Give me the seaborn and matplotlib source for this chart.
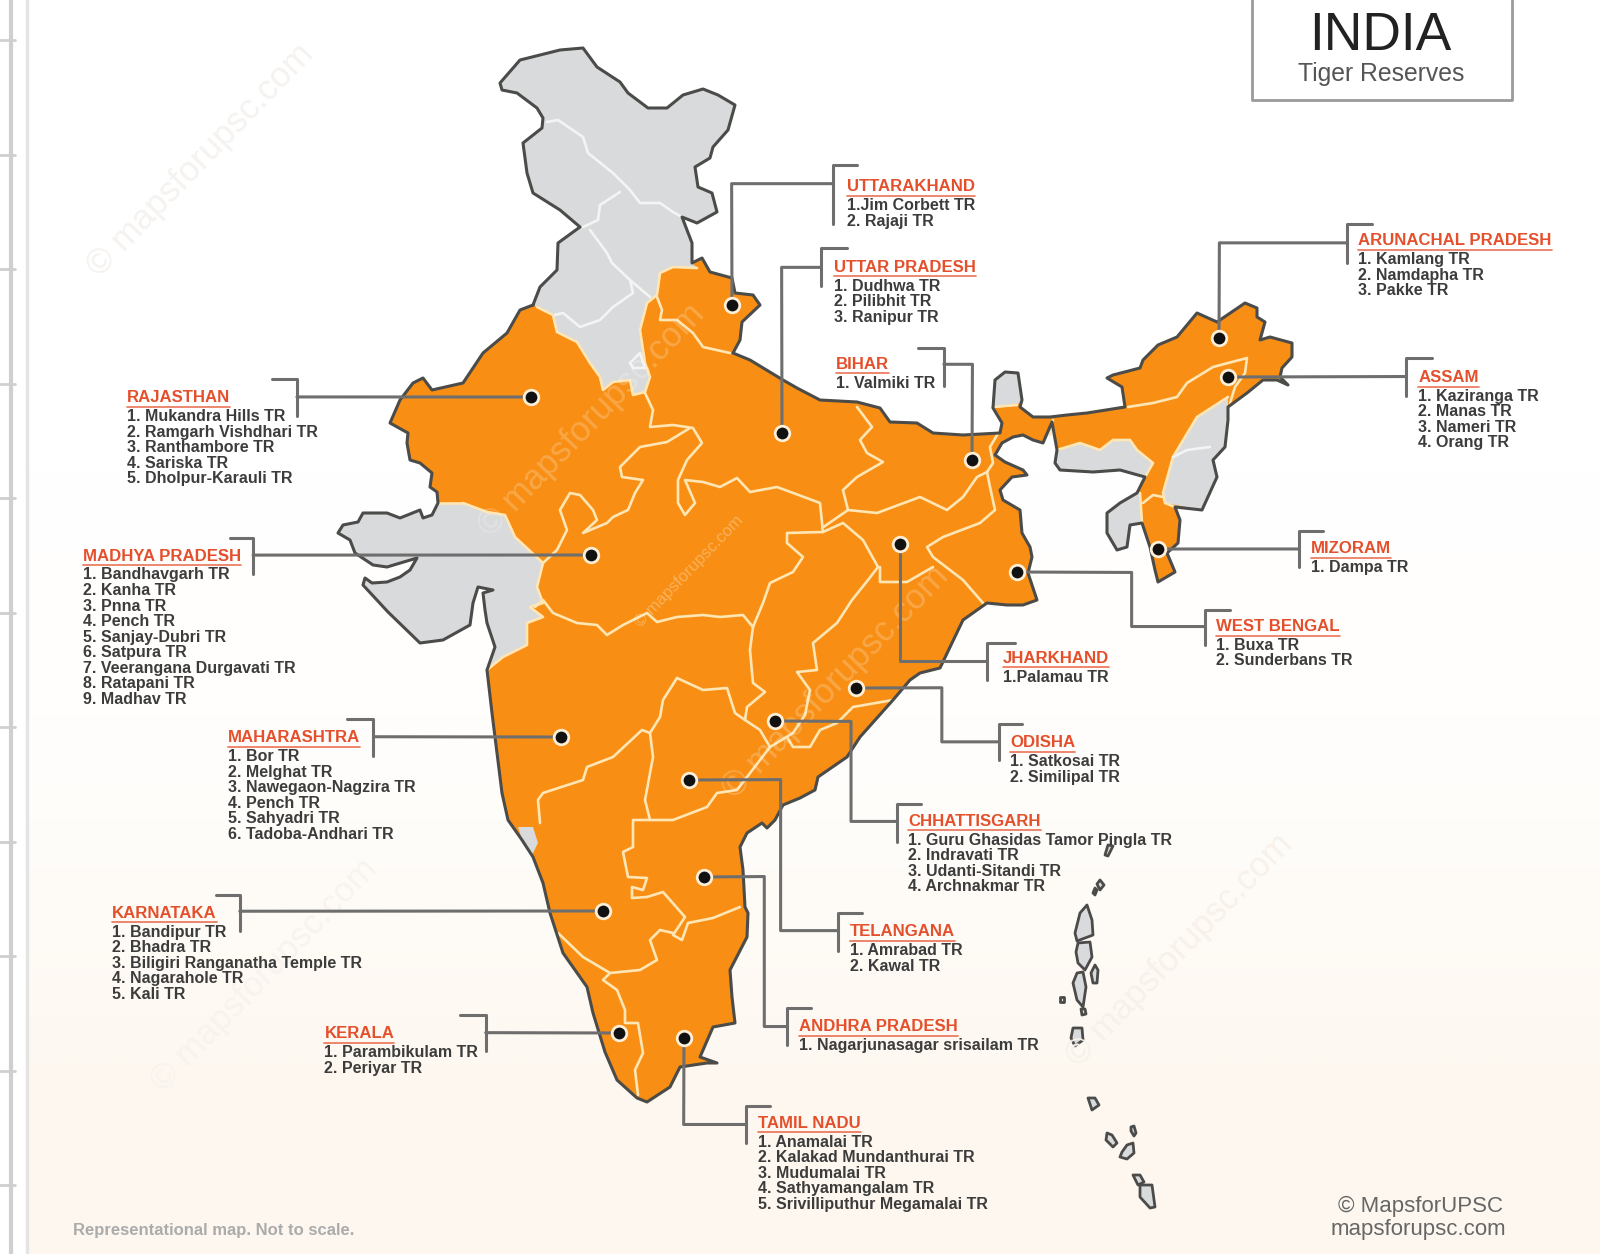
import numpy as np
import pandas as pd
import matplotlib.pyplot as plt
import seaborn as sns

# map shapes, in reference pixels
north_edge = [(533,305),(540,287),(557,270),(558,243),(580,227),(560,210),(533,193),(527,173),(523,143),(542,128),
              (543,118),(537,108),(517,93),(502,90),(500,83),(520,60),(540,55),(560,50),(583,48),(597,67),(620,82),
              (628,93),(648,108),(667,108),(683,95),(703,89),(718,95),(735,105),(728,130),(713,147),(710,158),
              (695,167),(698,187),(712,193),(717,212),(697,223),(682,217),(692,243),(692,263)]
north_bottom = [(697,268),(673,267),(660,273),(657,295),(647,303),(640,330),(645,363),(650,377),(645,392),(633,395),
                (630,380),(613,382),(603,390),(600,377),(590,363),(577,342),(557,332),(553,315),(537,307)]
east_edge = [(702,258),(710,272),(732,278),(735,293),(753,295),(760,305),(742,322),(740,340),(733,353),(750,360),
             (783,380),(797,388),(820,400),(857,402),(880,408),(890,422),(917,423),(933,433),(963,435),(1000,433),
             (1002,423),(993,408),(995,380),(1005,372),(1018,373),(1022,400),(1020,407),(1033,417),(1050,417),
             (1067,415),(1087,413),(1125,407),(1122,387),(1107,378),(1113,375),(1140,368),(1143,360),(1158,345),
             (1177,337),(1197,313),(1217,322),(1245,303),(1257,308),(1257,317),(1265,322),(1260,340),(1270,337),
             (1292,343),(1292,357),(1282,368),(1280,377),(1288,385),(1277,380),(1263,380),(1247,393),(1228,407),
             (1228,420),(1225,447),(1213,460),(1217,477),(1202,510),(1175,507),(1180,520),(1178,543),(1167,553),
             (1175,572),(1158,582),(1155,570),(1150,547),(1142,523),(1130,525),(1127,547),(1117,550),(1107,533),
             (1107,513),(1120,503),(1137,493),(1145,477),(1120,470),(1093,472),(1060,470),(1055,463),(1057,450),
             (1052,422),(1043,443),(1033,440),(1023,435),(1013,437),(1002,443),(995,455),(1005,462),(1023,470),
             (1027,475),(1012,477),(1000,490),(1003,500),(1020,510),(1022,533),(1030,547),(1032,557),(1028,573),
             (1037,600),(1023,605),(1007,605),(987,603),(963,620),(940,668),(920,673),(910,680),(893,700),(860,737),
             (847,757),(818,777),(815,790),(800,798),(783,805),(775,820),(767,828),(762,823),(747,833),(740,847),
             (743,870),(745,907),(748,913),(747,937),(730,970),(732,997),(735,1023),(713,1027),(700,1057),(717,1063),
             (707,1063),(680,1067),(670,1087),(647,1102),(637,1098),(617,1080),(605,1052),(593,1013),(587,987),
             (563,953),(550,913),(543,883),(533,857),(522,840),(508,820),(502,793),(495,737),(492,713),(487,670)]
gujarat_coast = [(495,647),(487,623),(485,610),(483,593),(493,590),(478,587),(473,603),(470,625),(443,640),(420,643),
                 (388,612),(363,585),(365,578),(372,583),(387,582),(400,577),(410,570),(417,558),(387,567),(373,565),
                 (355,553),(350,540),(338,533),(343,525),(358,522),(363,513),(387,513),(400,518),(420,510),(423,518),
                 (432,515),(438,503)]
west_edge = [(437,492),(430,487),(432,473),(420,463),(410,460),(407,443),(408,433),(390,423),(400,400),(413,383),
             (423,378),(432,390),(463,383),(483,353),(507,333),(520,310)]
gujarat_east = [(463,503),(487,512),(505,515),(515,537),(543,563),(537,587),(543,603),(530,607),(543,617),(527,623),
                (527,645),(503,657),(493,665),(487,670)]

sikkim = [(992,407),(995,380),(1005,372),(1018,373),(1022,400),(1017,405),(998,408)]
meghalaya = [(1057,450),(1080,443),(1100,450),(1113,440),(1130,440),(1137,450),(1153,463),(1145,477),(1120,470),
             (1093,472),(1060,470),(1055,463)]
nagaland_manipur = [(1228,397),(1228,420),(1225,447),(1213,460),(1217,477),(1202,510),(1165,503),(1163,493),(1173,457),
                    (1197,417)]
tripura = [(1142,523),(1130,525),(1127,547),(1117,550),(1107,533),(1107,513),(1120,503),(1137,493),(1140,493)]
goa = [(518,827),(533,827),(538,843),(532,855),(523,843)]

islands = [[(1108,845),(1113,846),(1108,856),(1105,855)],
           [(1100,880),(1104,885),(1100,890),(1097,884)],
           [(1095,888),(1097,890),(1095,895),(1093,893)],
           [(1087,905),(1092,920),(1093,935),(1077,941),(1075,933),(1080,913)],
           [(1078,943),(1090,942),(1092,957),(1085,970),(1078,963),(1076,952)],
           [(1077,973),(1083,972),(1086,987),(1083,1007),(1077,1000),(1073,983)],
           [(1095,965),(1098,970),(1097,983),(1093,983),(1091,973)],
           [(1081,1009),(1085,1009),(1086,1014),(1082,1015)],
           [(1060,997),(1064,997),(1064,1002),(1060,1002)],
           [(1073,1028),(1082,1028),(1083,1040),(1075,1046),(1071,1038)],
           [(1088,1098),(1095,1098),(1099,1105),(1092,1110)],
           [(1107,1133),(1112,1135),(1117,1143),(1113,1147),(1106,1140)],
           [(1131,1127),(1134,1126),(1136,1133),(1134,1136),(1131,1131)],
           [(1127,1145),(1133,1143),(1134,1153),(1127,1159),(1120,1157),(1122,1152)],
           [(1133,1175),(1140,1175),(1144,1182),(1138,1185)],
           [(1140,1185),(1152,1185),(1155,1207),(1150,1208),(1140,1197)]]

# state borders
gray_borders = [
    [(547,122),(558,120),(583,137),(588,153),(613,173),(630,190),(640,203),(660,203),(673,212),(682,217)],
    [(620,192),(600,205),(598,220),(583,227)],
    [(590,230),(607,253),(612,263),(630,280),(633,293),(613,307),(600,320),(580,327),(563,313),(555,315)],
    [(630,280),(650,297)],
    [(630,363),(640,353),(645,368),(633,368),(630,363)],
    [(1173,457),(1187,450),(1210,447)],
]
cream_borders = [
    north_bottom,
    gujarat_east,
    [(438,503),(463,503)],
    [(657,297),(662,310),(660,320),(677,320),(693,333),(703,347),(730,353)],
    [(645,393),(653,410),(650,427),(673,425),(693,428),(702,443),(687,460),(678,480),(678,503),(685,515),(695,503),
     (685,480),(703,482),(720,487),(737,478),(750,492),(777,487),(820,503),(823,532)],
    [(690,428),(667,442),(640,447),(620,467),(622,477),(643,480),(635,493),(628,510),(613,517),(607,523),(583,533),
     (597,520),(593,510),(580,495),(570,493),(560,510),(567,530),(557,550),(543,563)],
    [(535,607),(543,600),(553,613),(577,623),(597,625),(607,635),(623,625),(647,613),(657,622),(677,617),(703,615),
     (720,617),(743,615),(753,627)],
    [(753,627),(763,603),(770,583),(793,572),(803,557),(787,543),(787,533),(823,532),(843,523),(863,540),(878,567),
     (868,580),(852,600),(837,623),(813,643),(817,670),(797,672),(810,690),(805,715),(793,733),(770,747)],
    [(753,627),(750,650),(753,683),(765,692),(747,707),(745,720),(760,730),(770,747)],
    [(677,678),(703,690),(727,688),(735,713),(745,720)],
    [(677,678),(663,700),(660,717),(650,733),(653,757),(645,800),(650,820),(673,820),(707,807),(717,793),(737,790),
     (770,747)],
    [(650,733),(642,730),(613,757),(587,767),(583,780),(543,793),(538,800),(540,823)],
    [(893,700),(853,707),(837,723),(820,730),(810,747),(793,747),(787,737)],
    [(650,820),(633,820),(633,847),(623,852),(628,877),(647,878),(643,890),(632,887),(632,898),(647,897),(663,892),
     (685,917),(673,935),(682,940),(688,923),(713,918),(740,907)],
    [(673,933),(660,930),(650,940),(657,960),(640,970),(610,973),(583,957),(558,933)],
    [(610,973),(603,980),(617,990),(625,1010),(625,1023),(638,1023),(643,1053),(635,1070),(638,1095)],
    [(848,510),(877,513),(920,497),(947,510),(963,497),(977,477),(987,472)],
    [(857,407),(872,427),(860,440),(867,453),(883,462),(857,477),(843,490),(848,510),(822,528)],
    [(987,472),(990,487),(995,510),(980,523),(943,537),(927,547),(933,557),(963,580),(983,603)],
    [(880,567),(880,582),(907,582),(933,567)],
    [(1000,430),(990,447),(993,463),(987,472)],
    [(1053,420),(1050,435)],
    [(1128,407),(1153,403),(1177,397),(1187,383),(1213,367),(1247,358),(1245,373),(1235,387),(1230,403)],
    [(1057,450),(1080,443),(1100,450),(1113,440),(1130,440),(1137,450),(1153,463),(1145,477)],
    [(1228,397),(1197,417),(1173,457),(1163,493),(1165,503),(1175,507)],
    [(1143,503),(1153,495),(1163,497)],
    [(1140,493),(1142,523)],
    [(992,407),(1017,405)],
]

# callouts (positions from the reference at 1568 px width)
states = ["UTTARAKHAND", "UTTAR PRADESH", "BIHAR", "ARUNACHAL PRADESH", "ASSAM", "MIZORAM", "WEST BENGAL", "JHARKHAND",
          "ODISHA", "CHHATTISGARH", "TELANGANA", "ANDHRA PRADESH", "TAMIL NADU", "RAJASTHAN", "MADHYA PRADESH",
          "MAHARASHTRA", "KARNATAKA", "KERALA"]
reserves = [["1.Jim Corbett TR", "2. Rajaji TR"],
            ["1. Dudhwa TR", "2. Pilibhit TR", "3. Ranipur TR"],
            ["1. Valmiki TR"],
            ["1. Kamlang TR", "2. Namdapha TR", "3. Pakke TR"],
            ["1. Kaziranga TR", "2. Manas TR", "3. Nameri TR", "4. Orang TR"],
            ["1. Dampa TR"],
            ["1. Buxa TR", "2. Sunderbans TR"],
            ["1.Palamau TR"],
            ["1. Satkosai TR", "2. Similipal TR"],
            ["1. Guru Ghasidas Tamor Pingla TR", "2. Indravati TR", "3. Udanti-Sitandi TR", "4. Archnakmar TR"],
            ["1. Amrabad TR", "2. Kawal TR"],
            ["1. Nagarjunasagar srisailam TR"],
            ["1. Anamalai TR", "2. Kalakad Mundanthurai TR", "3. Mudumalai TR", "4. Sathyamangalam TR",
             "5. Srivilliputhur Megamalai TR"],
            ["1. Mukandra Hills TR", "2. Ramgarh Vishdhari TR", "3. Ranthambore TR", "4. Sariska TR",
             "5. Dholpur-Karauli TR"],
            ["1. Bandhavgarh TR", "2. Kanha TR", "3. Pnna TR", "4. Pench TR", "5. Sanjay-Dubri TR", "6. Satpura TR",
             "7. Veerangana Durgavati TR", "8. Ratapani TR", "9. Madhav TR"],
            ["1. Bor TR", "2. Melghat TR", "3. Nawegaon-Nagzira TR", "4. Pench TR", "5. Sahyadri TR",
             "6. Tadoba-Andhari TR"],
            ["1. Bandipur TR", "2. Bhadra TR", "3. Biligiri Ranganatha Temple TR", "4. Nagarahole TR", "5. Kali TR"],
            ["1. Parambikulam TR", "2. Periyar TR"]]
dot_x = [732, 782, 972, 1219, 1228, 1158, 1017, 900, 856, 775, 689, 704, 684, 531, 591, 561, 603, 619]
dot_y = [305, 433, 460, 338, 377, 549, 572, 544, 688, 721, 780, 877, 1038, 397, 555, 737, 911, 1033]
heading_x = [830, 817, 819, 1331, 1390, 1285, 1192, 983, 990, 890, 833, 783, 743, 124, 81, 223, 110, 318]
heading_y = [183, 262, 357, 236, 370, 538, 614, 645, 728, 805, 913, 1006, 1101, 390, 545, 723, 895, 1013]
# bracket: (stub end x, vertical x, top y, bottom y)
brackets = [(840,816,162,220),(830,805,243,280),(900,925,341,378),(1345,1320,220,258),(1403,1378,351,388),
            (1297,1273,520,556),(1205,1181,598,632),(995,967,630,666),(1002,979,710,745),(903,879,788,825),
            (845,821,895,932),(795,771,988,1024),(755,731,1084,1120),(267,291,371,408),(225,248,527,563),
            (340,366,705,741),(212,235,877,912),(451,476,995,1030)]
# elbow points of the leader between bracket and dot
elbows = [[(816,180),(717,180)],[(805,262),(766,262)],[(925,357),(953,357)],[(1320,238),(1195,238)],[(1378,369)],
          [(1273,538)],[(1181,614),(1109,614),(1109,561)],[(967,648),(882,648)],[(979,727),(923,727),(923,674)],
          [(879,805),(834,805),(834,707)],[(821,912),(765,912),(765,764)],[(771,1006),(749,1006),(749,859)],
          [(731,1102),(670,1102)],[(291,389)],[(248,544)],[(366,722)],[(235,893)],[(476,1012)]]

S = 1600 / 1568
ORANGE = "#F88F14"
GRAY = "#D9DADC"
EDGE = "#4B4B49"
LEADER = "#6E6E6E"
TEXT = "#3C3C3C"
RED = "#E4502C"
FONT = "Liberation Sans"

sns.set_theme(style="white")
plt.rcParams["font.family"] = [FONT, "DejaVu Sans"]

fig = plt.figure(figsize=(16, 12.54), dpi=100)
ax = fig.add_axes([0, 0, 1, 1])

# paper tint, stronger to the bottom
tint = np.array([[1, 1, 1], [1, 1, 1], [1.0, 0.995, 0.985], [0.995, 0.97, 0.94]])
ax.imshow(tint[:, None, :], extent=(0, 1600, 1254, 0), aspect="auto", interpolation="bilinear", zorder=0)
ax.axvspan(0, 28, color="white", zorder=0.5)

# ruler at the left edge
ax.axvline(10.5, color="#CFCFCF", lw=3, zorder=1)
ax.axvline(27, color="#E4E4E4", lw=2.5, zorder=1)
for ty in np.arange(40, 1254, 114.5):
    ax.plot([0, 15], [ty, ty], color="#CFCFCF", lw=2, zorder=1)

outer = north_edge + east_edge + gujarat_coast + west_edge
x, y = zip(*outer)
ax.fill(x, y, color=ORANGE, lw=0, zorder=2)

for poly in [north_edge + north_bottom, gujarat_coast + gujarat_east, sikkim, meghalaya, nagaland_manipur, tripura, goa]:
    x, y = zip(*poly)
    ax.fill(x, y, color=GRAY, lw=0, zorder=3)

# borders go through seaborn as long-form lines
def border_frame(lines):
    rows = []
    for i, line in enumerate(lines):
        for k, (px, py) in enumerate(line):
            rows.append({"line": i, "k": k, "x": px, "y": py})
    return pd.DataFrame(rows)

sns.lineplot(data=border_frame(cream_borders), x="x", y="y", units="line", estimator=None, sort=False,
             color="#FFE6B4", lw=1.9, ax=ax, zorder=4, legend=False)
sns.lineplot(data=border_frame(gray_borders), x="x", y="y", units="line", estimator=None, sort=False,
             color="#F4F4F4", lw=1.9, ax=ax, zorder=4, legend=False)

x, y = zip(*(outer + outer[:1]))
ax.plot(x, y, color=EDGE, lw=2.2, solid_joinstyle="round", zorder=5)

for poly in islands:
    x, y = zip(*poly)
    ax.fill(x, y, facecolor=GRAY, edgecolor=EDGE, lw=2, joinstyle="round", zorder=5)

# leaders and brackets
leader_lines = []
for i in range(len(states)):
    stub, vx, top, bottom = brackets[i]
    leader_lines.append([(stub * S, top * S), (vx * S, top * S), (vx * S, bottom * S)])
    leader_lines.append([(px * S, py * S) for px, py in elbows[i]] + [(dot_x[i], dot_y[i])])
sns.lineplot(data=border_frame(leader_lines), x="x", y="y", units="line", estimator=None, sort=False,
             color=LEADER, lw=2.2, ax=ax, zorder=6, legend=False)

dots = pd.DataFrame({"state": states, "x": dot_x, "y": dot_y})
sns.scatterplot(data=dots, x="x", y="y", s=110, color="#111111", edgecolor="#FFEFD8", linewidth=2, ax=ax, zorder=7,
                legend=False)

# labels
for i, state in enumerate(states):
    hx = heading_x[i] * S
    hy = heading_y[i] * S
    head = ax.text(hx, hy, state, color=RED, fontsize=12.1, fontweight="bold", va="center", ha="left", zorder=8)
    ext = head.get_window_extent(fig.canvas.get_renderer())
    ax.plot([hx, hx + ext.width], [hy + 9, hy + 9], color=RED, lw=1.2, alpha=0.8, zorder=8)
    for k, item in enumerate(reserves[i]):
        ax.text(hx, hy + (18.5 + 15.2 * k) * S, item, color=TEXT, fontsize=11.5, fontweight="bold", va="center",
                ha="left", zorder=8)

# title box
ax.plot([1252, 1252, 1512, 1512], [0, 100, 100, 0], color="#9A9A9A", lw=2, zorder=8)
ax.text(1380, 36, "INDIA", color="#222222", fontsize=38.5, va="center", ha="center", zorder=8)
ax.text(1381, 74, "Tiger Reserves", color="#555555", fontsize=17.8, va="center", ha="center", zorder=8)

# watermarks
WATER = "© mapsforupsc.com"
for wx, wy, wsize, wcol, walpha in [(201, 160, 25, "#F5F2EF", 1), (592, 420, 25, "#FFFFFF", 0.22),
                                    (689, 571, 12, "#FFFFFF", 0.3), (836, 682, 25, "#FFFFFF", 0.22),
                                    (265, 975, 25, "#F8F3EE", 1), (1180, 950, 25, "#F8F1EA", 1)]:
    ax.text(wx, wy, WATER, color=wcol, alpha=walpha, fontsize=wsize, rotation=46, ha="center", va="center", zorder=5.5)

# footer
ax.text(73, 1230, "Representational map. Not to scale.", color="#ABABAB", fontsize=12, fontweight="bold",
        va="center", zorder=8)
ax.text(1420, 1206, "© MapsforUPSC", color="#666666", fontsize=16, va="center", ha="center", zorder=8)
ax.text(1418, 1229, "mapsforupsc.com", color="#666666", fontsize=16, va="center", ha="center", zorder=8)

ax.set_xlim(0, 1600)
ax.set_ylim(1254, 0)
ax.set_xlabel("")
ax.set_ylabel("")
ax.axis("off")

fig.savefig("out.png", dpi=100)
